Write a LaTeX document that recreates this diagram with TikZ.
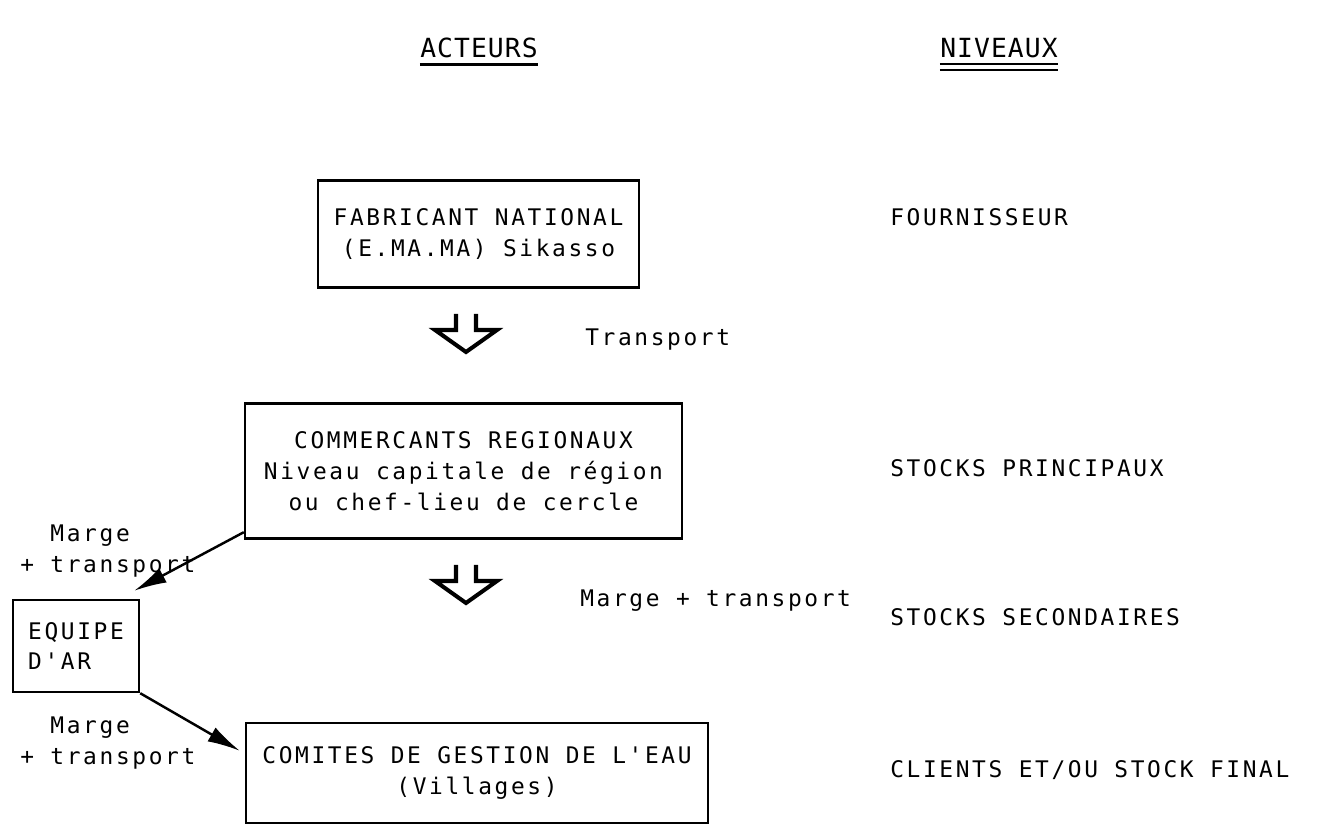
\documentclass[tikz,border=0pt]{standalone}
\usepackage{fontspec}
\newfontfamily\typewriter[LetterSpace=11.5]{DejaVu Sans Mono}
\newfontfamily\headtype[LetterSpace=4]{DejaVu Sans Mono}
\usetikzlibrary{arrows.meta,calc}

\begin{document}
\begin{tikzpicture}[
  font=\typewriter\fontsize{13}{17.6}\selectfont,
  box/.style={draw,line width=1.4pt,align=center,inner sep=0pt},
  level/.style={anchor=west,inner sep=0pt},
  head/.style={font=\headtype\fontsize{15}{17}\selectfont,inner sep=0pt},
  note/.style={anchor=west,align=left,inner sep=0pt},
  link/.style={-{Latex[length=6.5mm,width=3.2mm]},line width=1.4pt},
  downflow/.pic={
    \draw[line width=2.3pt,line join=miter]
      (-0.2,0) -- (-0.2,-0.32) -- (-0.62,-0.32) -- (0,-0.76)
      -- (0.62,-0.32) -- (0.2,-0.32) -- (0.2,0);
  }
]
  \useasboundingbox (0,0) rectangle (26.38,16.52);

  % column headings
  \node[head] (acteurs) at (9.58,15.56) {ACTEURS};
  \node[head] (niveaux) at (19.98,15.56) {NIVEAUX};
  \draw[line width=1.3pt] ([yshift=-4pt]acteurs.base west) -- ([yshift=-4pt]acteurs.base east);
  \draw[line width=1.1pt] ([yshift=-4pt]niveaux.base west) -- ([yshift=-4pt]niveaux.base east);
  \draw[line width=1.1pt] ([yshift=-7pt]niveaux.base west) -- ([yshift=-7pt]niveaux.base east);

  % actors
  \node[box,minimum width=6.42cm,minimum height=2.14cm] (fab) at (9.57,11.84)
    {FABRICANT NATIONAL\\(E.MA.MA) Sikasso};
  \node[box,minimum width=8.74cm,minimum height=2.70cm] (comm) at (9.27,7.10)
    {COMMERCANTS REGIONAUX\\Niveau capitale de région\\ou chef-lieu de cercle};
  \node[box,align=left,minimum width=2.52cm,minimum height=1.84cm] (equipe) at (1.52,3.60)
    {EQUIPE\\D'AR};
  \node[box,minimum width=9.24cm,minimum height=2.0cm] (comit) at (9.54,1.06)
    {COMITES DE GESTION DE L'EAU\\(Villages)};

  % levels
  \node[level] (fourn) at (17.8,12.18) {FOURNISSEUR};
  \node[level] (princ) at (17.8,7.16) {STOCKS PRINCIPAUX};
  \node[level] (second) at (17.8,4.18) {STOCKS SECONDAIRES};
  \node[level] (final) at (17.8,1.12) {CLIENTS ET/OU STOCK FINAL};

  % flows down the chain
  \pic at (9.32,10.24) {downflow};
  \pic at (9.32,5.22) {downflow};
  \node[level] (transp) at (11.7,9.72) {Transport};
  \node[level] (margemid) at (11.6,4.50) {Marge + transport};

  \node[note] (margeup) at (0.4,5.50) {\phantom{+ }Marge\\+ transport};
  \node[note] (margelow) at (0.4,1.66) {\phantom{+ }Marge\\+ transport};

  \draw[link] ([yshift=0.15cm]comm.south west) -- ([shift={(-0.12,0.16)}]equipe.north east);
  \draw[link] (equipe.south east) -- ($(comit.north west)+(-0.1,-0.58)$);
\end{tikzpicture}
\end{document}
